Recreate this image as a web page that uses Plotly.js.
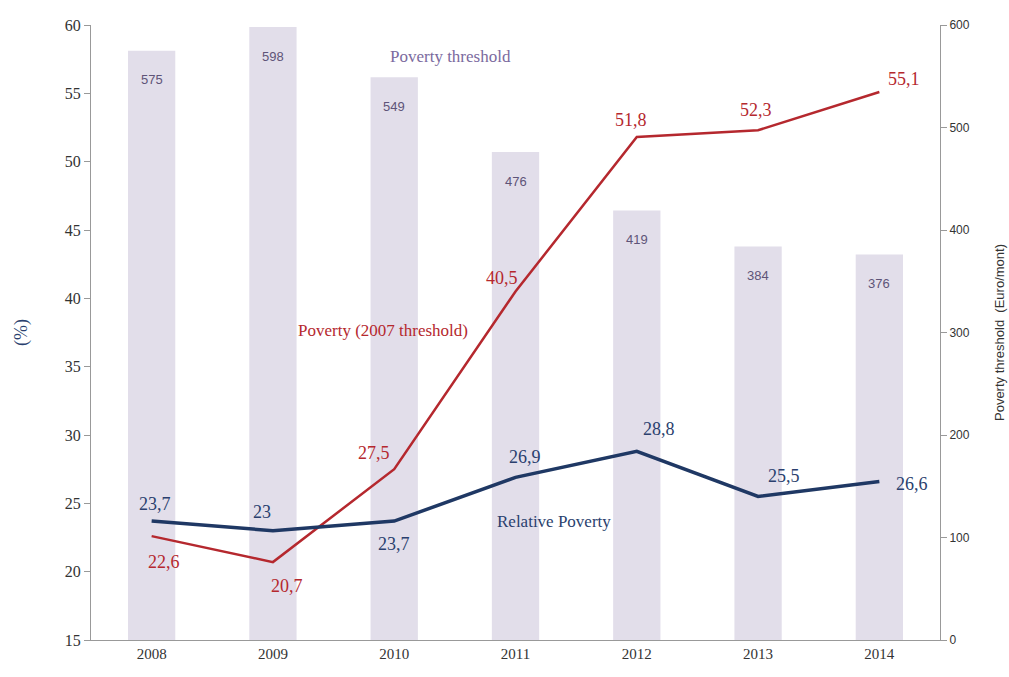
<!DOCTYPE html>
<html><head><meta charset="utf-8">
<script src="https://cdn.plot.ly/plotly-3.0.1.min.js"></script>
<style>html,body{margin:0;padding:0;background:#fff}#chart{width:1009px;height:677px}</style>
</head><body><div id="chart"></div>
<script>
const years = ['2008','2009','2010','2011','2012','2013','2014'];
const threshold = [575, 598, 549, 476, 419, 384, 376];
const poverty2007 = [22.6, 20.7, 27.5, 40.5, 51.8, 52.3, 55.1];
const relative = [23.7, 23, 23.7, 26.9, 28.8, 25.5, 26.6];

const fmt = v => String(v).replace('.', ',');
// label offsets (px) relative to each point
const redOff = [[12,-26],[14,-24],[-20,16],[-14,14],[-6,17],[-2,20],[25,13]];
const blueOff = [[3,17],[-11,19],[0,-23],[9,20],[22,22],[26,21],[33,-3]];

const serif = 'Liberation Serif, DejaVu Serif, serif';
const ann = [];
years.forEach((yr,i)=>{
  ann.push({x:i, y:threshold[i], xref:'x', yref:'y', text:String(threshold[i]), showarrow:false,
    yshift:-29, font:{family:'Liberation Sans, Arial, sans-serif', size:13, color:'#5e5478'}});
  ann.push({x:i, y:poverty2007[i], xref:'x', yref:'y2', text:fmt(poverty2007[i]), showarrow:false,
    xshift:redOff[i][0], yshift:redOff[i][1], font:{family:serif, size:18, color:'#b5282e'}});
  ann.push({x:i, y:relative[i], xref:'x', yref:'y2', text:fmt(relative[i]), showarrow:false,
    xshift:blueOff[i][0], yshift:blueOff[i][1], font:{family:serif, size:18, color:'#2a3f6e'}});
});
const mid = {showarrow:false, xanchor:'center', yanchor:'middle', xref:'paper', yref:'paper'};
ann.push(Object.assign({x:0.424, y:0.948, text:'Poverty threshold',
  font:{family:serif, size:17, color:'#7b6a9e'}}, mid));
ann.push(Object.assign({x:0.344, y:0.504, text:'Poverty (2007 threshold)',
  font:{family:serif, size:17, color:'#b5282e'}}, mid));
ann.push(Object.assign({x:0.545, y:0.192, text:'Relative Poverty',
  font:{family:serif, size:17, color:'#2a3f6e'}}, mid));

const data = [
  {type:'bar', x:years, y:threshold, yaxis:'y', marker:{color:'#e2deea'}, width:0.39, hoverinfo:'none'},
  {type:'scatter', mode:'lines', x:years, y:poverty2007, yaxis:'y2', line:{color:'#b5282e', width:2.5}},
  {type:'scatter', mode:'lines', x:years, y:relative, yaxis:'y2', line:{color:'#1f3864', width:3.5}}
];
const layout = {
  width:1009, height:677, showlegend:false,
  margin:{l:91, r:69, t:25, b:37},
  paper_bgcolor:'#fff', plot_bgcolor:'#fff',
  xaxis:{type:'category', range:[-0.5,6.5], showgrid:false, showline:true, linecolor:'#999', linewidth:1,
    ticks:'', tickfont:{family:serif, size:15, color:'#333'}},
  yaxis2:{range:[15,60], dtick:5, overlaying:'y', side:'left', showgrid:false, zeroline:false, showline:true, linecolor:'#999',
    ticks:'outside', ticklen:6, tickcolor:'#999', tickfont:{family:serif, size:16, color:'#333'},
    title:{text:'(%)', font:{family:serif, size:18, color:'#2a3f6e'}, standoff:32}},
  yaxis:{range:[0,600], dtick:100, side:'right', showgrid:false, zeroline:false,
    showline:true, linecolor:'#999', ticks:'outside', ticklen:6, tickcolor:'#999',
    tickfont:{family:'Liberation Sans, Arial, sans-serif', size:12, color:'#333'},
    title:{text:'Poverty threshold  (Euro/mont)', font:{family:'Liberation Sans, Arial, sans-serif', size:13, color:'#333'}, standoff:26}},
  annotations:ann
};
Plotly.newPlot('chart', data, layout, {displayModeBar:false, staticPlot:true});
</script></body></html>
